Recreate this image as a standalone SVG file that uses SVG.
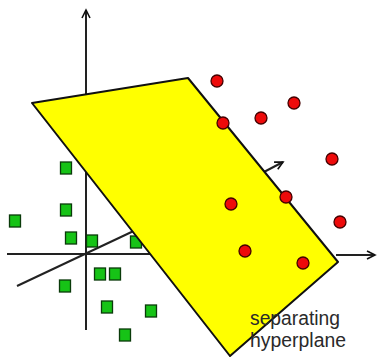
<svg xmlns="http://www.w3.org/2000/svg" width="379" height="357" viewBox="0 0 379 357">
<defs>
<style>
.ax{stroke:#222;stroke-width:2;fill:none}
.sq{fill:#16c316;stroke:#0a3a0a;stroke-width:1.3}
.ci{fill:#ee0a0a;stroke:#400;stroke-width:1.3}
.pl{fill:#ffff00;stroke:#111;stroke-width:2;stroke-linejoin:round}
.lb{font-family:"Liberation Sans",Arial,sans-serif;font-size:20px;fill:#2a2a2a}
</style>
<marker id="ah" markerWidth="12" markerHeight="10" refX="9" refY="5" orient="auto" markerUnits="userSpaceOnUse">
<path d="M1,1 L9,5 L1,9 M3,2 L9,5" fill="none" stroke="#111" stroke-width="1.6"/>
</marker>
</defs>
<rect width="379" height="357" fill="#fff"/>
<g id="connectors">
<line class="ax" x1="86" y1="330" x2="86" y2="10" marker-end="url(#ah)"/>
<line class="ax" x1="7" y1="254" x2="150" y2="254"/>
<line class="ax" x1="336" y1="255" x2="375" y2="255" marker-end="url(#ah)"/>
<line class="ax" x1="17" y1="286" x2="140" y2="228"/>
<line class="ax" x1="262" y1="173" x2="283" y2="162" marker-end="url(#ah)"/>
</g>
<g id="sq-under"><rect class="sq" x="130.5" y="236" width="11" height="12"/></g>
<g id="hyperplane"><polygon class="pl" points="32,103 188,78 338,262 230,356"/></g>
<g id="class-green">
<g id="g1"><rect class="sq" x="60.5" y="162" width="11" height="12"/></g>
<g id="g2"><rect class="sq" x="9.5" y="215" width="11" height="12"/></g>
<g id="g3"><rect class="sq" x="60.5" y="204" width="11" height="12"/></g>
<g id="g4"><rect class="sq" x="65.5" y="232" width="11" height="12"/></g>
<g id="g5"><rect class="sq" x="86.5" y="235" width="11" height="12"/></g>
<g id="g6"><rect class="sq" x="94.5" y="268" width="11" height="12"/></g>
<g id="g7"><rect class="sq" x="109.5" y="268" width="11" height="12"/></g>
<g id="g8"><rect class="sq" x="59.5" y="280" width="11" height="12"/></g>
<g id="g9"><rect class="sq" x="101.5" y="301" width="11" height="12"/></g>
<g id="g10"><rect class="sq" x="145.5" y="305" width="11" height="12"/></g>
<g id="g11"><rect class="sq" x="119.5" y="329" width="11" height="12"/></g>
</g>
<g id="class-red">
<g id="r1"><circle class="ci" cx="217" cy="81" r="6"/></g>
<g id="r2"><circle class="ci" cx="223" cy="123" r="6"/></g>
<g id="r3"><circle class="ci" cx="261" cy="118" r="6"/></g>
<g id="r4"><circle class="ci" cx="294" cy="103" r="6"/></g>
<g id="r5"><circle class="ci" cx="332" cy="159" r="6"/></g>
<g id="r6"><circle class="ci" cx="231" cy="204" r="6"/></g>
<g id="r7"><circle class="ci" cx="286" cy="197" r="6"/></g>
<g id="r8"><circle class="ci" cx="340" cy="222" r="6"/></g>
<g id="r9"><circle class="ci" cx="245" cy="251" r="6"/></g>
<g id="r10"><circle class="ci" cx="303" cy="263" r="6"/></g>
</g>
<g id="label">
<text class="lb" x="250" y="325" textLength="90" lengthAdjust="spacingAndGlyphs">separating</text>
<text class="lb" x="250" y="347" textLength="96" lengthAdjust="spacingAndGlyphs">hyperplane</text>
</g>
</svg>
